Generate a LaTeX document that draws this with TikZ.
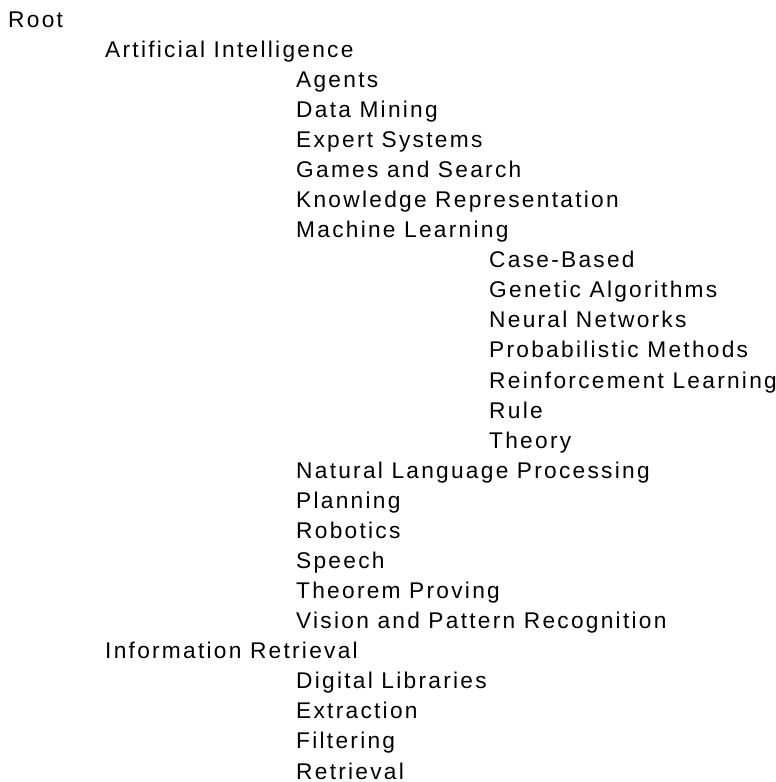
\documentclass[tikz,border=0pt]{standalone}
\usepackage{fontspec}
\setmainfont{Liberation Sans}[LetterSpace=10]
\usepackage{tikz}

\tikzset{
    entry/.style={anchor=base west, inner sep=0pt, font=\fontsize{22.7}{26}\selectfont}
}

\begin{document}
\begin{tikzpicture}[x=1pt, y=-1pt]
        \useasboundingbox (0,0) rectangle (776,782);

        \node[entry] (root) at (8,27) {Root};

        \node[entry] (ai) at (105,57.1) {Artificial Intelligence};
        \node[entry] (agents) at (296,87.2) {Agents};
        \node[entry] (dm) at (296,117.2) {Data Mining};
        \node[entry] (es) at (296,147.3) {Expert Systems};
        \node[entry] (gs) at (296,177.4) {Games and Search};
        \node[entry] (kr) at (296,207.5) {Knowledge Representation};
        \node[entry] (ml) at (296,237.6) {Machine Learning};
        \node[entry] (cb) at (489,267.6) {Case-Based};
        \node[entry] (ga) at (489,297.7) {Genetic Algorithms};
        \node[entry] (nn) at (489,327.8) {Neural Networks};
        \node[entry] (pm) at (489,357.9) {Probabilistic Methods};
        \node[entry] (rl) at (489,388.0) {Reinforcement Learning};
        \node[entry] (rule) at (489,418.0) {Rule};
        \node[entry] (theory) at (489,448.1) {Theory};
        \node[entry] (nlp) at (296,478.2) {Natural Language Processing};
        \node[entry] (plan) at (296,508.3) {Planning};
        \node[entry] (rob) at (296,538.4) {Robotics};
        \node[entry] (speech) at (296,568.4) {Speech};
        \node[entry] (tp) at (296,598.5) {Theorem Proving};
        \node[entry] (vpr) at (296,628.6) {Vision and Pattern Recognition};

        \node[entry] (ir) at (105,658.7) {Information Retrieval};
        \node[entry] (dl) at (296,688.8) {Digital Libraries};
        \node[entry] (ext) at (296,718.8) {Extraction};
        \node[entry] (filt) at (296,748.9) {Filtering};
        \node[entry] (ret) at (296,779.0) {Retrieval};
\end{tikzpicture}
\end{document}
